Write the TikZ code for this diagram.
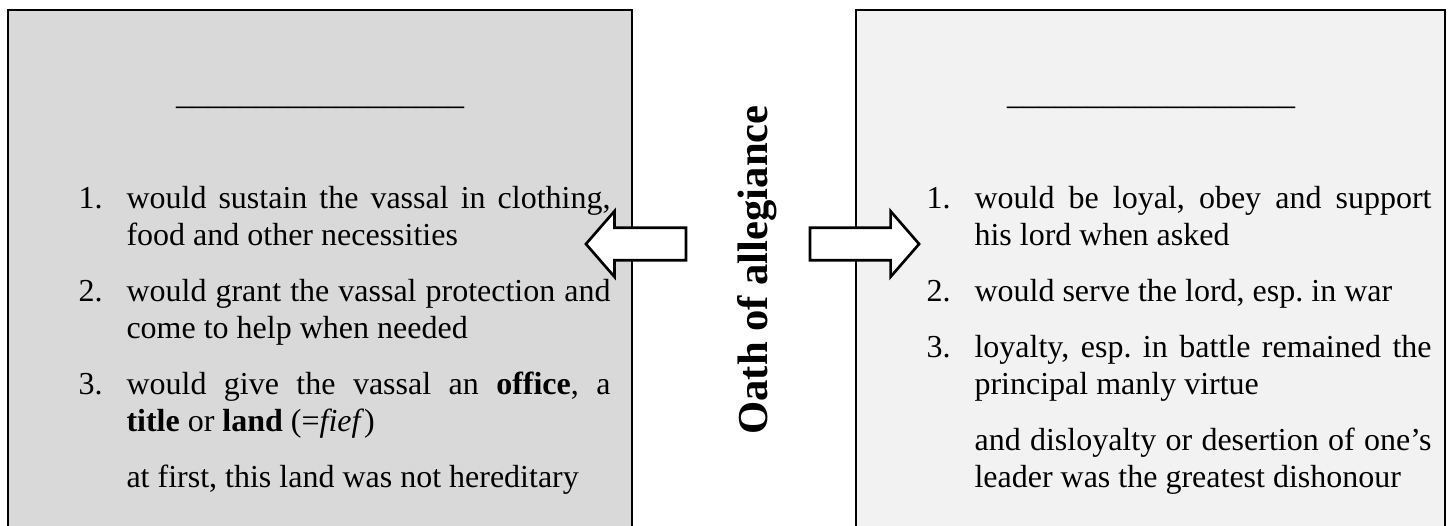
\documentclass[tikz,border=0pt]{standalone}
\usepackage{fontspec}
\setmainfont{Liberation Serif}
\usetikzlibrary{positioning,shapes.arrows}

% numbered entry with hanging number
\newcommand{\vitem}[2]{\spaceskip=3pt plus 3pt minus 0pt\hyphenpenalty=10000%
  \hangindent=18pt\hangafter=0%
  \noindent\strut\llap{\makebox[18pt][l]{#1}}#2\strut\par}

\tikzset{
  lordbox/.style={draw=black,line width=0.8pt,fill=black!15},
  vassalbox/.style={draw=black,line width=0.8pt,fill=black!5},
  duty/.style={inner sep=0pt,align=justify,font=\fontsize{12}{13.9}\selectfont\frenchspacing},
  blank/.style={inner sep=0pt,anchor=base,font=\fontsize{12}{13.9}\selectfont},
  bigarrow/.style={single arrow,draw=black,fill=white,line width=1pt,
    minimum width=23.6pt,single arrow head extend=6.2pt,
    single arrow tip angle=98,inner sep=5.6pt}
}

\begin{document}
\begin{tikzpicture}[x=0.375pt,y=-0.375pt]
	\useasboundingbox (0,0) rectangle (1453,525);
	\clip (0,0) rectangle (1453,525);
	\draw[lordbox]   (8,10)   rectangle (632,560);
	\draw[vassalbox] (856,10) rectangle (1445,560);

	% lord
	\node (Lblank) at (320,104) [blank] {\_\_\_\_\_\_\_\_\_\_\_\_\_\_\_\_\_\_};
	\node (L1) at (78,182) [duty, anchor=north west, text width=199.5pt]
		{\vitem{1.}{would sustain the vassal in clothing, food and other necessities}};
	\node (L2) [duty, below=6.7pt of L1, text width=199.5pt]
		{\vitem{2.}{would grant the vassal protection and come to help when needed}};
	\node (L3) [duty, below=6.7pt of L2, text width=199.5pt]
		{\vitem{3.}{would give the vassal an \textbf{office}, a \textbf{title} or \textbf{land} (=\textit{fief})}};
	\node (L4) [duty, below=6.7pt of L3, text width=199.5pt]
		{\vitem{}{at first, this land was not hereditary}};

	% vassal
	\node (Rblank) at (1151,104) [blank] {\_\_\_\_\_\_\_\_\_\_\_\_\_\_\_\_\_\_};
	\node (R1) at (926,182) [duty, anchor=north west, text width=189.4pt]
		{\vitem{1.}{would be loyal, obey and support his lord when asked}};
	\node (R2) [duty, below=6.7pt of R1, text width=189.4pt]
		{\vitem{2.}{would serve the lord, esp. in war}};
	\node (R3) [duty, below=6.7pt of R2, text width=189.4pt]
		{\vitem{3.}{loyalty, esp. in battle remained the principal manly virtue}};
	\node (R4) [duty, below=6.7pt of R3, text width=189.4pt]
		{\vitem{}{and disloyalty or desertion of one's leader was the greatest dishonour}};

	% oath
	\node (oath) at (767,270) [anchor=base, rotate=90, inner sep=0pt,
		font=\fontsize{16}{19}\selectfont\bfseries] {Oath of allegiance};
	\node (toLord) at (643,244) [bigarrow, shape border rotate=180, minimum height=37.5pt] {};
	\node (toVassal) at (857.5,244) [bigarrow, minimum height=40.9pt] {};
\end{tikzpicture}
\end{document}
